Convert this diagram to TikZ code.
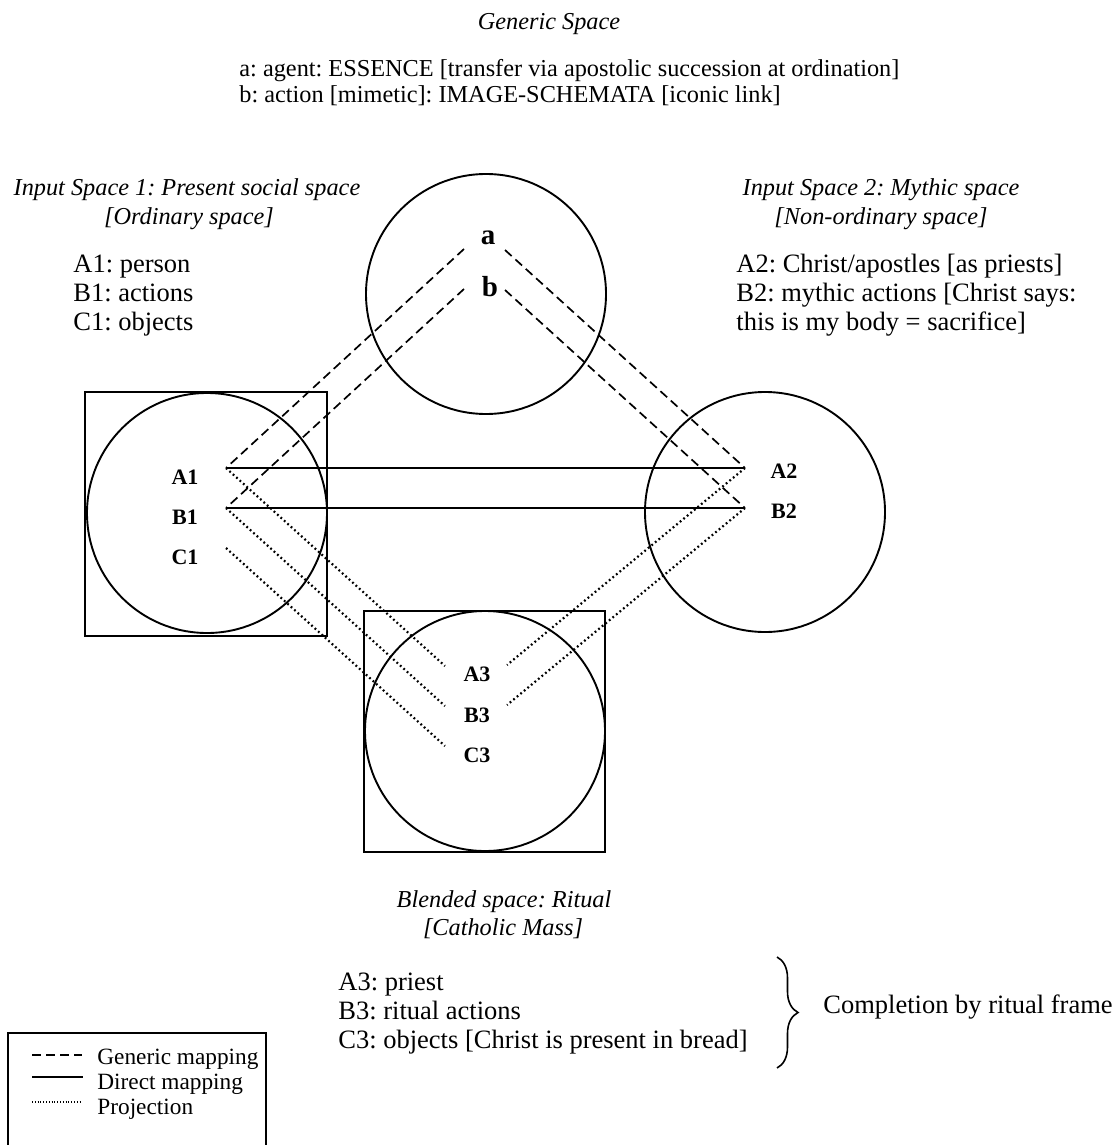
\documentclass[tikz,border=0pt]{standalone}
\usepackage{fontspec}
\setmainfont{Liberation Serif}
\usetikzlibrary{decorations.pathreplacing}
\frenchspacing
\newcommand\fbody{\fontsize{13.25pt}{15pt}\selectfont}
\newcommand\ftitle{\fontsize{12.15pt}{14pt}\selectfont}
\newcommand\flab{\fontsize{11pt}{13pt}\selectfont}
\newcommand\fab{\fontsize{14.5pt}{16pt}\selectfont}
\newcommand\fleg{\fontsize{11.65pt}{13pt}\selectfont}
\tikzset{
  ring/.style={circle, draw, line width=0.95pt, minimum size=120pt, inner sep=0pt, outer sep=0pt},
  frame/.style={line width=0.95pt},
  gen/.style={line width=0.85pt, dash pattern=on 4.5pt off 2.5pt},
  dir/.style={line width=0.85pt},
  proj/.style={line width=1.1pt, dash pattern=on 0.9pt off 1.4pt},
  txt/.style={inner sep=0pt, anchor=base west, font=\fbody},
  gtxt/.style={inner sep=0pt, anchor=base west, font=\ftitle},
  ttl/.style={inner sep=0pt, anchor=base, font=\ftitle\itshape},
  lab/.style={inner sep=0pt, font=\flab\bfseries},
  ablab/.style={inner sep=0pt, font=\fab\bfseries},
  legtxt/.style={inner sep=0pt, anchor=base west, font=\fleg},
}
\begin{document}
\begin{tikzpicture}[x=0.5pt, y=-0.5pt]
\useasboundingbox (0,0) rectangle (1116,1145);

% ---- titles and texts
\node[ttl] (gtitle) at (549,30) {Generic Space};
\node[gtxt] (gl1) at (239,76) {a: agent: ESSENCE [transfer via apostolic succession at ordination]};
\node[gtxt] (gl2) at (239,103) {b: action [mimetic]: IMAGE-SCHEMATA [iconic link]};

\node[ttl] (t1a) at (187,195) {Input Space 1: Present social space};
\node[ttl] (t1b) at (189,224) {[Ordinary space]};
\node[txt] (i1a) at (73,272) {A1: person};
\node[txt] (i1b) at (73,301) {B1: actions};
\node[txt] (i1c) at (73,330) {C1: objects};

\node[ttl] (t2a) at (881,195) {Input Space 2: Mythic space};
\node[ttl] (t2b) at (881,224) {[Non-ordinary space]};
\node[txt] (i2a) at (736,272) {A2: Christ/apostles [as priests]};
\node[txt] (i2b) at (736,301) {B2: mythic actions [Christ says:};
\node[txt] (i2c) at (736,330) {this is my body = sacrifice]};

\node[ttl] (t3a) at (504,907) {Blended space: Ritual};
\node[ttl] (t3b) at (503,935) {[Catholic Mass]};
\node[txt] (i3a) at (338,990) {A3: priest};
\node[txt] (i3b) at (338,1019) {B3: ritual actions};
\node[txt] (i3c) at (338,1048) {C3: objects [Christ is present in bread]};

% ---- spaces
\node[ring] (gen) at (486,294) {};
\draw[frame] (85,392) rectangle (327,636);
\node[ring] (in1) at (207,513) {};
\node[ring] (in2) at (765,512) {};
\draw[frame] (364,611) rectangle (605,852);
\node[ring] (blend) at (485,731) {};

% ---- element labels
\node[ablab] (la) at (488,238) {a};
\node[ablab] (lb) at (490,287) {b};
\node[lab] (lA1) at (185,477) {A1};
\node[lab] (lB1) at (185,517) {B1};
\node[lab] (lC1) at (185,557) {C1};
\node[lab] (lA2) at (784,471) {A2};
\node[lab] (lB2) at (784,511) {B2};
\node[lab] (lA3) at (477,674) {A3};
\node[lab] (lB3) at (477,715) {B3};
\node[lab] (lC3) at (477,755) {C3};

% ---- connector end points
\coordinate (al) at (464,249);
\coordinate (ar) at (505,250);
\coordinate (bl) at (464,289);
\coordinate (br) at (505,290);
\coordinate (A1p) at (226,468);
\coordinate (B1p) at (226,508);
\coordinate (C1p) at (226,548);
\coordinate (A2p) at (745,468);
\coordinate (B2p) at (745,508);
\coordinate (A3l) at (445,666);
\coordinate (B3l) at (445,706);
\coordinate (C3l) at (445,746);
\coordinate (A3r) at (507,665);
\coordinate (B3r) at (507,705);

% ---- generic mapping
\draw[gen] (al) -- (A1p);
\draw[gen] (bl) -- (B1p);
\draw[gen] (ar) -- (A2p);
\draw[gen] (br) -- (B2p);
% ---- direct mapping
\draw[dir] (A1p) -- (A2p);
\draw[dir] (B1p) -- (B2p);
% ---- projection
\draw[proj] (A1p) -- (A3l);
\draw[proj] (B1p) -- (B3l);
\draw[proj] (C1p) -- (C3l);
\draw[proj] (A2p) -- (A3r);
\draw[proj] (B2p) -- (B3r);

% ---- completion brace
\coordinate (brT) at (777,957);
\coordinate (brB) at (777,1068);
\draw[line width=0.8pt, decorate, decoration={brace, amplitude=10.5pt}] (brT) -- (brB);
\node[txt] (compl) at (823,1013) {Completion by ritual frame};

% ---- legend
\draw[frame] (8,1145) -- (8,1033) -- (266,1033) -- (266,1145);
\coordinate (lg1a) at (32,1055); \coordinate (lg1b) at (82,1055);
\coordinate (lg2a) at (32,1077); \coordinate (lg2b) at (83,1077);
\coordinate (lg3a) at (32,1102); \coordinate (lg3b) at (80,1102);
\draw[gen] (lg1a) -- (lg1b);
\draw[dir] (lg2a) -- (lg2b);
\draw[line width=0.6pt, dash pattern=on 0.5pt off 0.9pt] (lg3a) -- (lg3b);
\node[legtxt] (lgt1) at (97,1064) {Generic mapping};
\node[legtxt] (lgt2) at (97,1089) {Direct mapping};
\node[legtxt] (lgt3) at (97,1114) {Projection};
\end{tikzpicture}
\end{document}
